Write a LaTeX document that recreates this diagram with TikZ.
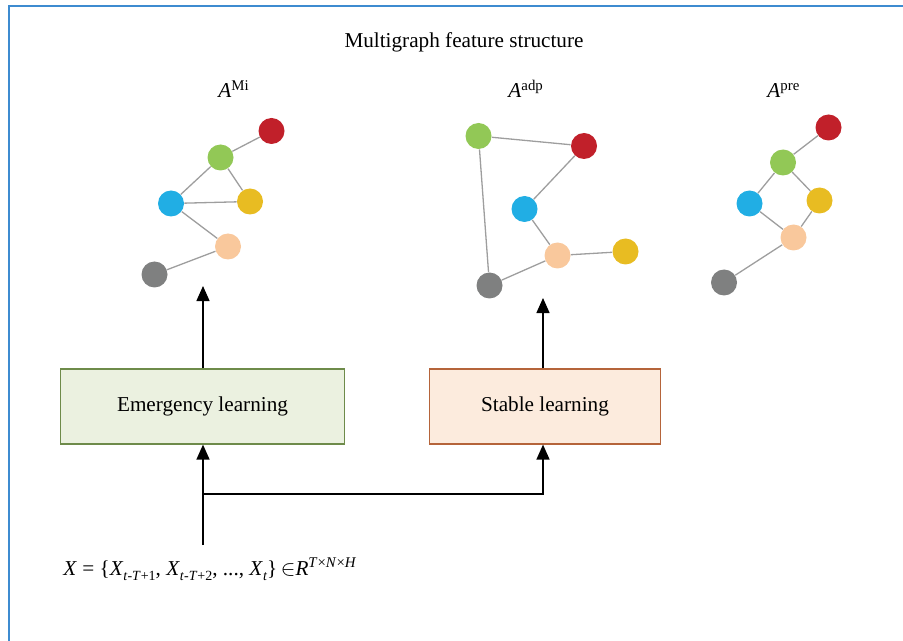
\documentclass[tikz,border=0pt]{standalone}
\usepackage{fontspec}
\setmainfont{Liberation Serif}
\usetikzlibrary{arrows.meta}
\definecolor{nred}{HTML}{C1202A}
\definecolor{ngreen}{HTML}{92C856}
\definecolor{nblue}{HTML}{21AEE4}
\definecolor{nyellow}{HTML}{E8BC22}
\definecolor{npeach}{HTML}{F9C89C}
\definecolor{ngray}{HTML}{7F8080}
\definecolor{frameblue}{HTML}{3D8BD0}
\definecolor{emfill}{HTML}{EBF1E0}
\definecolor{emdraw}{HTML}{6E8B4A}
\definecolor{stfill}{HTML}{FCEBDD}
\definecolor{stdraw}{HTML}{B5643A}
\newcommand\lowsub[1]{\raisebox{-0.55ex}{\fontsize{7}{8}\selectfont #1}}
\tikzset{
  vtx/.style={circle, fill=#1, minimum size=13pt, inner sep=0pt},
  box/.style={draw=#1, line width=0.6pt, minimum height=37.5pt, font=\fontsize{10.6}{12}\selectfont},
  up/.style={-{Triangle[length=7.5pt,width=6.5pt]}, line width=0.7pt},
  lbl/.style={font=\fontsize{10.6}{12}\selectfont, inner sep=0pt}
}
\begin{document}
\begin{tikzpicture}[x=0.5pt, y=-0.5pt]
  \useasboundingbox (0,0) rectangle (903,641);
  \draw[frameblue, line width=1.1pt] (9,641) -- (9,6) -- (903,6);
  \node[lbl, anchor=base] (title) at (464,48) {Multigraph feature structure};
  \node[lbl, anchor=base west] (ami) at (218,98) {\textit{A}\textsuperscript{Mi}};
  \node[lbl, anchor=base west] (aadp) at (508,98) {\textit{A}\textsuperscript{adp}};
  \node[lbl, anchor=base west] (apre) at (767,98) {\textit{A}\textsuperscript{pre}};
  % emergency graph
  \draw
    (271.5,131) node[vtx=nred] (r1){}
    (220.5,157.5) node[vtx=ngreen] (g1){}
    (171,203.5) node[vtx=nblue] (b1){}
    (250,201.5) node[vtx=nyellow] (y1){}
    (228,246.5) node[vtx=npeach] (p1){}
    (154.5,274.5) node[vtx=ngray] (k1){};
  % adaptive graph
  \draw
    (478.5,136) node[vtx=ngreen] (g2){}
    (584,146) node[vtx=nred] (r2){}
    (524.5,209) node[vtx=nblue] (b2){}
    (557.5,255.5) node[vtx=npeach] (p2){}
    (625.5,251.5) node[vtx=nyellow] (y2){}
    (489.5,285.5) node[vtx=ngray] (k2){};
  % predefined graph
  \draw
    (828.5,127.5) node[vtx=nred] (r3){}
    (783,162.5) node[vtx=ngreen] (g3){}
    (749.5,203.5) node[vtx=nblue] (b3){}
    (819.5,200.5) node[vtx=nyellow] (y3){}
    (793.5,237.5) node[vtx=npeach] (p3){}
    (724,282.5) node[vtx=ngray] (k3){};
  \begin{scope}[black!38, line width=0.65pt]
    \draw (r1) to (g1);
    \draw (g1) to (b1);
    \draw (g1) to (y1);
    \draw (b1) to (y1);
    \draw (b1) to (p1);
    \draw (p1) to (k1);
    \draw (g2) to (r2);
    \draw (g2) to (k2);
    \draw (r2) to (b2);
    \draw (b2) to (p2);
    \draw (p2) to (y2);
    \draw (p2) to (k2);
    \draw (r3) to (g3);
    \draw (g3) to (b3);
    \draw (g3) to (y3);
    \draw (b3) to (p3);
    \draw (y3) to (p3);
    \draw (p3) to (k3);
  \end{scope}
  % learning blocks
  \node[box=emdraw, fill=emfill, minimum width=142.3pt] (el) at (202.5,406.5) {Emergency learning};
  \node[box=stdraw, fill=stfill, minimum width=115.8pt] (sl) at (545,406.5) {Stable learning};
  \node[lbl, anchor=base west] (xin) at (63,575)
    {\textit{X} = \{\textit{X}\lowsub{\textit{t}-\textit{T}+1}, \textit{X}\lowsub{\textit{t}-\textit{T}+2}, ..., \textit{X}\lowsub{\textit{t}}\}\,$\in$\textit{R}\textsuperscript{\textit{T}×\textit{N}×\textit{H}}};
  \coordinate (t1) at (203,286);
  \coordinate (t2) at (543,298);
  \coordinate (src) at (203,545);
  \coordinate (fork) at (203,494);
  \draw[up] (el.north -| t1) -- (t1);
  \draw[up] (sl.north -| t2) -- (t2);
  \draw[up] (src) -- (el.south -| src);
  \draw[up] (fork) -| (sl.south -| t2);
\end{tikzpicture}
\end{document}
